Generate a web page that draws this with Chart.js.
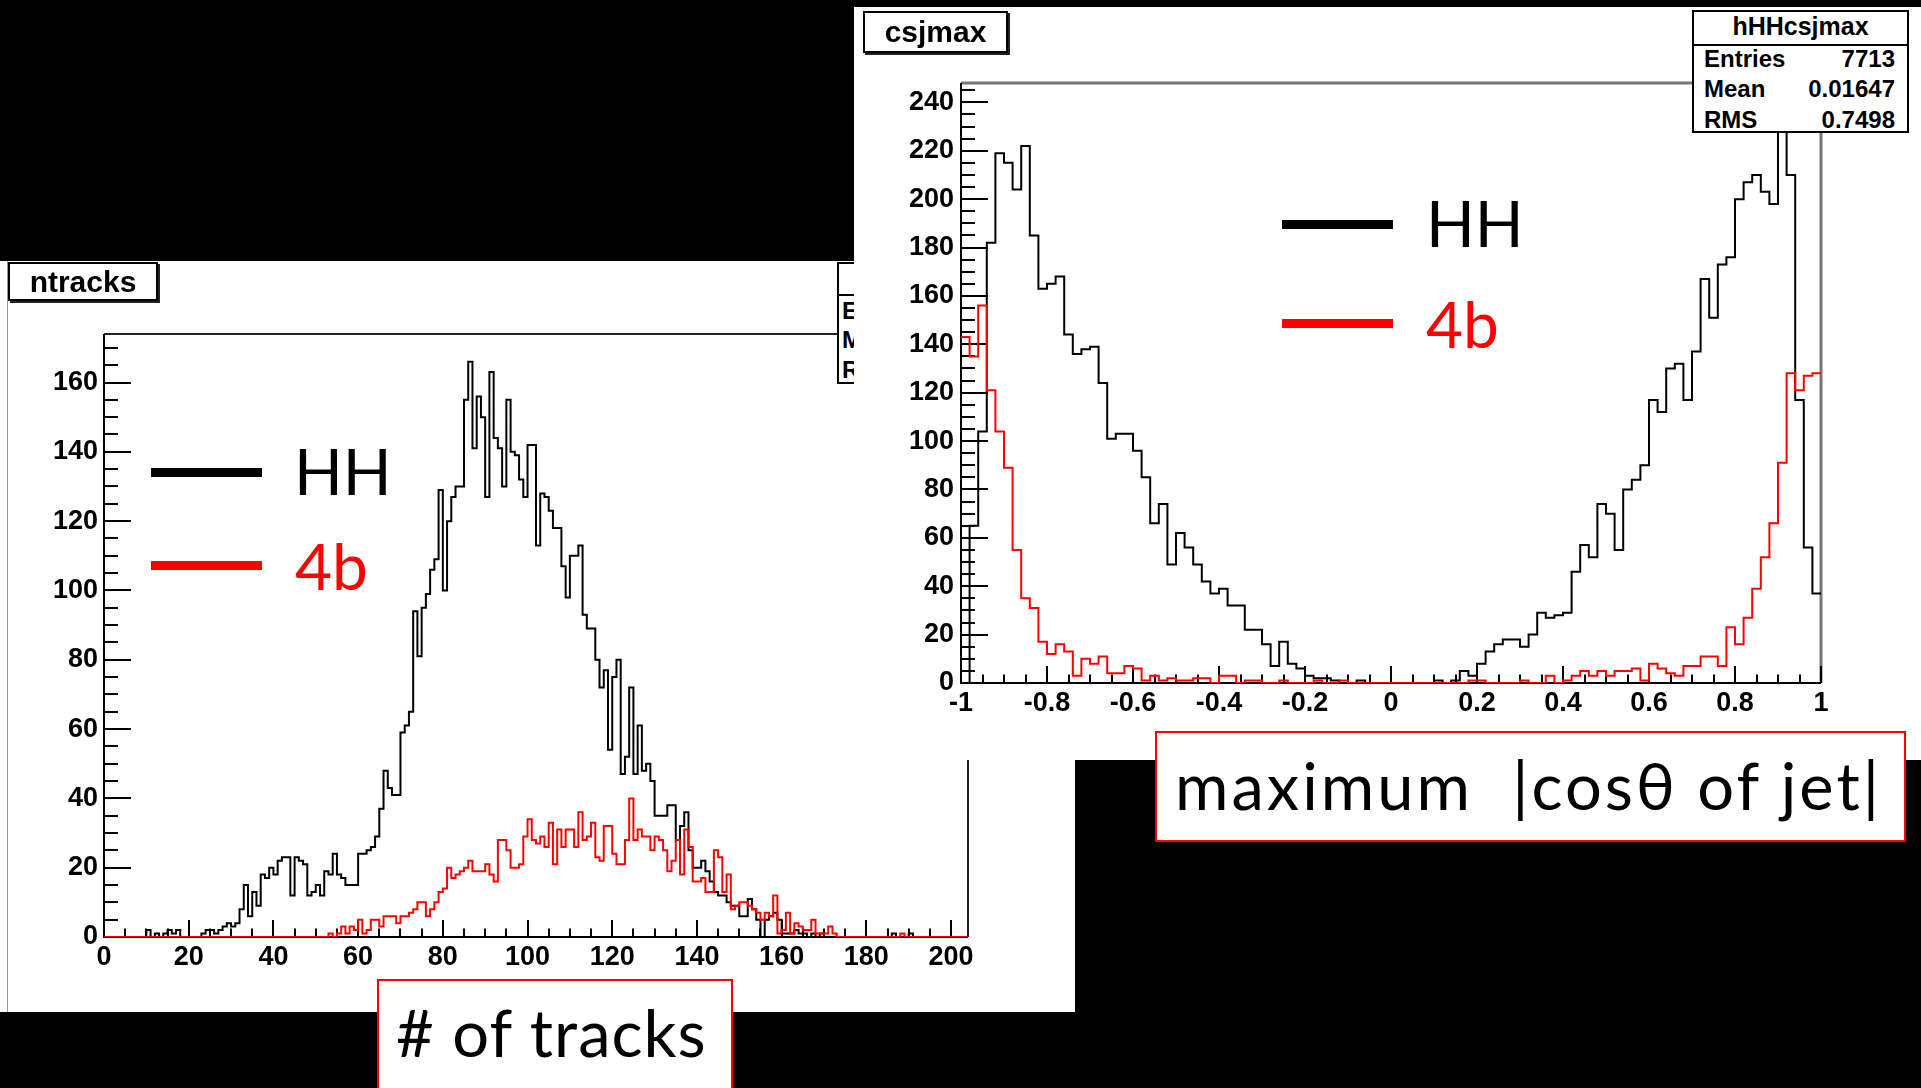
<!DOCTYPE html>
<html>
<head>
<meta charset="utf-8">
<script src="https://cdn.jsdelivr.net/npm/chart.js@4.4.1/dist/chart.umd.min.js"></script>
<style>
  html, body { margin: 0; padding: 0; background: #000; }
  body { width: 1921px; height: 1088px; position: relative; overflow: hidden; }
  .panel { position: absolute; background: #fff; }
  canvas { position: absolute; }
  .root { position: absolute; font-family: "Liberation Sans", Arial, sans-serif; font-weight: bold; color: #000; white-space: nowrap; }
  .titlebox { background: #fff; border: 2px solid #000; box-shadow: 2px 2px 0 #222; box-sizing: border-box; font-size: 30px; line-height: 36px; text-align: center; }
  .stats { background: #fff; border: 2px solid #000; box-sizing: border-box; overflow: hidden; }
  .stats .sep { position: absolute; left: 0; right: 0; height: 0; border-top: 2px solid #000; }
  .stats span { position: absolute; font-size: 24px; line-height: 24px; }
  .slide { position: absolute; font-family: Lato, "Noto Sans", sans-serif; line-height: 1; white-space: pre; }
  .legline { position: absolute; height: 9px; width: 111px; }
  .axisbox { position: absolute; background: #fff; border: 2px solid #f00; box-sizing: border-box; }
</style>
</head>
<body>

<!-- left pad: ntracks -->
<div class="panel" style="left:0; top:261px; width:1075px; height:751px;"></div>
<canvas id="ntracksChart" width="1075" height="751" style="left:0; top:261px;"></canvas>
<div class="panel" style="left:7px; top:261px; width:1px; height:751px; background:#999;"></div>
<div class="root stats" style="left:837px; top:262px; width:220px; height:122px;">
  <div class="sep" style="top:30px;"></div>
  <span style="left:3px; top:35px;">Entries</span>
  <span style="left:3px; top:64px;">Mean</span>
  <span style="left:3px; top:94px;">RMS</span>
</div>
<div class="root titlebox" style="left:8px; top:262px; width:150px; height:39px;">ntracks</div>
<div class="legline" style="left:151px; top:468px; background:#000;"></div>
<div class="legline" style="left:151px; top:561px; background:#f00;"></div>
<div class="slide" style="left:294px; top:439px; font-size:64px; color:#000;">HH</div>
<div class="slide" style="left:295px; top:534px; font-size:64px; color:#f00;">4b</div>

<!-- right pad: csjmax -->
<div class="panel" style="left:854px; top:7px; width:1067px; height:753px;"></div>
<canvas id="csjmaxChart" width="1067" height="753" style="left:854px; top:7px;"></canvas>
<div class="root stats" style="left:1692px; top:10px; width:217px; height:123px;">
  <div class="sep" style="top:32px;"></div>
  <span style="left:0; right:0; top:2px; text-align:center; font-size:25px;">hHHcsjmax</span>
  <span style="left:10px; top:35px;">Entries</span><span style="right:12px; top:35px;">7713</span>
  <span style="left:10px; top:65px;">Mean</span><span style="right:12px; top:65px;">0.01647</span>
  <span style="left:10px; top:96px;">RMS</span><span style="right:12px; top:96px;">0.7498</span>
</div>
<div class="root titlebox" style="left:863px; top:11px; width:145px; height:42px; line-height:38px;">csjmax</div>
<div class="legline" style="left:1282px; top:220px; background:#000;"></div>
<div class="legline" style="left:1282px; top:319px; background:#f00;"></div>
<div class="slide" style="left:1426px; top:191px; font-size:64px; color:#000;">HH</div>
<div class="slide" style="left:1426px; top:292px; font-size:64px; color:#f00;">4b</div>

<!-- axis captions -->
<div class="axisbox" style="left:377px; top:979px; width:356px; height:140px;"></div>
<div class="slide" style="left:396px; top:1000px; font-size:65px; color:#000; letter-spacing:1px;"># of tracks</div>
<div class="axisbox" style="left:1155px; top:731px; width:751px; height:111px;"></div>
<div class="slide" style="left:1175px; top:753px; font-size:65px; color:#000; letter-spacing:3px;">maximum  |cosθ of jet|</div>

<script>
// ntracks: 1-track bins starting at 0
const ntracksLow = 0;
const ntracksBin = 1;
const ntracksHH = [
  0, 0, 0, 0, 0, 0, 0, 0, 0, 0,
  2, 0, 1, 0, 1, 2, 1, 2, 0, 0,
  0, 0, 0, 1, 2, 2, 1, 2, 3, 4,
  3, 4, 8, 15, 6, 13, 9, 18, 17, 20,
  18, 22, 23, 23, 12, 23, 22, 21, 12, 13,
  15, 12, 19, 18, 24, 18, 17, 15, 15, 15,
  24, 24, 25, 26, 29, 37, 48, 43, 41, 41,
  59, 61, 65, 94, 81, 95, 99, 106, 109, 129,
  100, 120, 127, 130, 130, 155, 166, 141, 156, 150,
  127, 163, 144, 141, 130, 155, 140, 139, 132, 127,
  142, 142, 113, 128, 127, 123, 118, 118, 107, 98,
  110, 110, 113, 93, 89, 89, 80, 72, 77, 54,
  75, 80, 47, 52, 72, 47, 61, 48, 50, 45,
  35, 35, 35, 38, 38, 28, 32, 36, 25, 20,
  20, 22, 19, 16, 13, 12, 12, 10, 9, 9,
  6, 6, 11, 8, 5, 0, 5, 6, 7, 5,
  1, 1, 1, 2, 1, 1, 0, 1, 0, 1,
  0, 0, 0, 0, 0, 0, 0, 0, 0, 0,
  0, 0, 0, 0, 0, 0, 1, 0, 0, 0,
  1, 0, 0, 0, 0, 0, 0, 0, 0, 0,
  0, 0, 0, 0
];
const ntracks4b = [
  0, 0, 0, 0, 0, 0, 0, 0, 0, 0,
  0, 0, 0, 0, 0, 0, 0, 0, 0, 0,
  0, 0, 0, 0, 0, 0, 0, 0, 0, 0,
  0, 0, 0, 0, 0, 0, 0, 0, 0, 0,
  0, 0, 0, 0, 0, 0, 0, 0, 0, 0,
  0, 0, 0, 1, 0, 1, 3, 1, 3, 2,
  5, 1, 2, 5, 5, 3, 6, 6, 6, 4,
  6, 6, 7, 8, 10, 10, 6, 8, 10, 13,
  14, 20, 17, 18, 19, 20, 22, 19, 19, 19,
  21, 18, 16, 28, 28, 25, 20, 20, 21, 29,
  34, 28, 27, 29, 26, 33, 21, 31, 26, 31,
  31, 26, 36, 28, 29, 33, 23, 22, 32, 32,
  24, 21, 21, 28, 40, 28, 31, 29, 29, 25,
  29, 28, 25, 19, 22, 28, 18, 31, 26, 16,
  16, 17, 13, 13, 25, 23, 13, 18, 8, 9,
  10, 10, 9, 8, 7, 5, 7, 6, 12, 1,
  2, 7, 1, 4, 3, 2, 2, 5, 1, 1,
  1, 3, 1, 0, 0, 0, 0, 0, 0, 0,
  0, 0, 0, 0, 0, 0, 0, 0, 1, 0,
  0, 0, 0, 0, 0, 0, 0, 0, 0, 0,
  0, 0, 0, 0
];
const ntracksXLabels = [0, 20, 40, 60, 80, 100, 120, 140, 160, 180, 200];
const ntracksYLabels = [0, 20, 40, 60, 80, 100, 120, 140, 160];

// csjmax: 100 bins from -1 to 1
const csjLow = -1;
const csjBin = 0.02;
const csjHH = [
  0, 65, 104, 182, 219, 215, 204, 222, 185, 163,
  165, 168, 144, 136, 138, 139, 124, 101, 103, 103,
  96, 85, 66, 74, 49, 62, 56, 49, 42, 37,
  39, 32, 32, 22, 22, 16, 7, 17, 8, 6,
  3, 2, 2, 1, 0, 0, 1, 0, 0, 0,
  0, 0, 0, 0, 0, 1, 0, 1, 5, 3,
  8, 13, 16, 18, 18, 15, 20, 29, 27, 28,
  29, 46, 57, 52, 74, 70, 55, 80, 84, 90,
  117, 112, 130, 132, 117, 137, 167, 151, 173, 176,
  200, 207, 210, 203, 198, 236, 210, 117, 56, 37
];
const csj4b = [
  143, 135, 156, 121, 104, 89, 55, 35, 31, 17,
  12, 16, 13, 3, 10, 8, 11, 4, 4, 7,
  6, 1, 3, 1, 2, 1, 1, 2, 2, 0,
  3, 3, 0, 1, 1, 0, 0, 1, 0, 0,
  0, 1, 0, 0, 1, 0, 0, 0, 0, 0,
  0, 0, 0, 0, 0, 0, 0, 0, 0, 1,
  1, 0, 0, 0, 0, 1, 0, 0, 3, 0,
  1, 3, 5, 3, 5, 3, 5, 5, 6, 1,
  8, 6, 4, 3, 7, 7, 11, 11, 7, 23,
  16, 27, 39, 52, 66, 91, 128, 121, 127, 128
];
const csjXLabels = [-1, -0.8, -0.6, -0.4, -0.2, 0, 0.2, 0.4, 0.6, 0.8, 1];
const csjYLabels = [0, 20, 40, 60, 80, 100, 120, 140, 160, 180, 200, 220, 240];

// bin counts -> step points at the low edges, plus the closing upper edge
function histPoints(low, width, counts) {
  const pts = counts.map((c, i) => ({ x: low + i * width, y: c }));
  pts.push({ x: low + counts.length * width, y: counts[counts.length - 1] });
  return pts;
}

function tickList(from, to, step) {
  const n = Math.round((to - from) / step);
  const out = [];
  for (let k = 0; k <= n; k++) out.push(from + k * step);
  return out;
}

// ROOT style frame: ticks pointing inward, major + minor
const rootFrame = {
  id: "rootFrame",
  beforeDatasetsDraw(chart, args, o) {
    const { ctx, chartArea: a } = chart;
    const xs = chart.scales.x;
    const ys = chart.scales.y;
    const isMajor = (v, m) => Math.abs(v / m - Math.round(v / m)) < 1e-6;
    ctx.save();
    ctx.lineCap = "butt";

    ctx.strokeStyle = o.frameColor;
    ctx.lineWidth = o.frameWidth;
    ctx.beginPath();
    ctx.moveTo(a.left, a.top);
    ctx.lineTo(a.right, a.top);
    ctx.lineTo(a.right, a.bottom);
    ctx.stroke();

    ctx.strokeStyle = "#000";
    ctx.lineWidth = 2;
    ctx.beginPath();
    ctx.moveTo(a.left, a.top);
    ctx.lineTo(a.left, a.bottom);
    ctx.lineTo(a.right, a.bottom);
    ctx.stroke();

    ctx.beginPath();
    o.yTicks.forEach((v) => {
      const py = Math.round(ys.getPixelForValue(v));
      const len = isMajor(v, o.yMajor) ? 27 : 14;
      ctx.moveTo(a.left, py);
      ctx.lineTo(a.left + len, py);
    });
    o.xTicks.forEach((v) => {
      const px = Math.round(xs.getPixelForValue(v));
      const len = isMajor(v, o.xMajor) ? 17 : 8.5;
      ctx.moveTo(px, a.bottom);
      ctx.lineTo(px, a.bottom - len);
    });
    ctx.stroke();
    ctx.restore();
  },
};

const tickFont = { family: "Liberation Sans", size: 27, weight: "bold" };

function makeHistChart(canvasId, c) {
  const ctx = document.getElementById(canvasId).getContext("2d");
  return new Chart(ctx, {
    type: "line",
    data: {
      datasets: [
        {
          label: "HH",
          data: histPoints(c.low, c.bin, c.hh),
          borderColor: "#000",
          borderWidth: 2,
          pointRadius: 0,
          stepped: true,
          fill: false,
          order: 1,
        },
        {
          label: "4b",
          data: histPoints(c.low, c.bin, c.bb),
          borderColor: "#ff0000",
          borderWidth: 2,
          pointRadius: 0,
          stepped: true,
          fill: false,
          order: 0,
        },
      ],
    },
    options: {
      responsive: false,
      animation: false,
      events: [],
      layout: { padding: c.padding },
      plugins: {
        legend: { display: false },
        tooltip: { enabled: false },
        rootFrame: c.frame,
      },
      scales: {
        x: {
          type: "linear",
          min: c.xMin,
          max: c.xMax,
          grid: { display: false, drawTicks: false },
          border: { display: false },
          afterBuildTicks: (scale) => {
            scale.ticks = c.xLabels.map((v) => ({ value: v }));
          },
          afterFit: (scale) => {
            scale.height = c.xAxisHeight;
          },
          ticks: {
            color: "#000",
            font: tickFont,
            padding: c.xPad,
            maxRotation: 0,
            autoSkip: false,
            callback: (v) => String(Math.round(v * 10) / 10),
          },
        },
        y: {
          type: "linear",
          min: 0,
          max: c.yMax,
          grid: { display: false, drawTicks: false },
          border: { display: false },
          afterBuildTicks: (scale) => {
            scale.ticks = c.yLabels.map((v) => ({ value: v }));
          },
          afterFit: (scale) => {
            scale.width = c.yAxisWidth;
          },
          ticks: {
            color: "#000",
            font: tickFont,
            padding: c.yPad,
            autoSkip: false,
          },
        },
      },
    },
    plugins: [rootFrame],
  });
}

makeHistChart("ntracksChart", {
  low: ntracksLow,
  bin: ntracksBin,
  hh: ntracksHH,
  bb: ntracks4b,
  xMin: 0,
  xMax: 204,
  yMax: 174,
  xLabels: ntracksXLabels,
  yLabels: ntracksYLabels,
  padding: { left: 0, top: 73, right: 107, bottom: 0 },
  xAxisHeight: 75,
  yAxisWidth: 104,
  xPad: 4,
  yPad: 6,
  frame: {
    frameColor: "#222",
    frameWidth: 2,
    xTicks: tickList(0, 200, 5),
    xMajor: 20,
    yTicks: tickList(0, 170, 5),
    yMajor: 20,
  },
});

makeHistChart("csjmaxChart", {
  low: csjLow,
  bin: csjBin,
  hh: csjHH,
  bb: csj4b,
  xMin: -1,
  xMax: 1,
  yMax: 248,
  xLabels: csjXLabels,
  yLabels: csjYLabels,
  padding: { left: 0, top: 76, right: 100, bottom: 0 },
  xAxisHeight: 77,
  yAxisWidth: 107,
  xPad: 4,
  yPad: 7,
  frame: {
    frameColor: "#777",
    frameWidth: 3,
    xTicks: tickList(-1, 1, 0.05),
    xMajor: 0.2,
    yTicks: tickList(0, 245, 5),
    yMajor: 20,
  },
});
</script>
</body>
</html>
